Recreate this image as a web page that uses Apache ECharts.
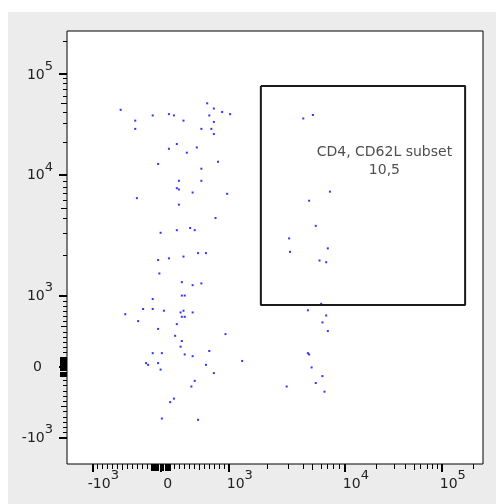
<!DOCTYPE html>
<html><head><meta charset="utf-8">
<script src="https://cdn.jsdelivr.net/npm/echarts@6/dist/echarts.min.js"></script>
<style>
html,body{margin:0;padding:0;background:#fff;}
#bg{position:absolute;left:8px;top:12px;width:488px;height:492px;background:#ececec;}
#chart{position:absolute;left:0;top:0;width:496px;height:504px;}
</style></head><body>
<div id="bg"></div><div id="chart"></div>
<script>
// Event positions in display channels (0-1000, biexponential scale)
const cd4Channel = [129,164,164,206,245,257,280,337,353,373, 342,392,353,323,347,353,264,245,312,288,
  219,363,323,269,323,264,269,302,385,168, 269,357,296,307,264,225,315,334,280,245,
  219,222,276,302,323,276,283,206,183,206, 233,273,280,302,140,276,283,171,264,219,
  381,260,276,273,342,206,228,283,302,190, 195,219,225,334,421,353,307,299,257,248,
  228,315,
  568,591,632,582,598,534,536,627,607,623, 611,579,623,614,627,579,582,588,614,598,
  528,619];
const cd62lChannel = [818,793,774,805,808,805,793,833,821,813, 805,808,790,774,774,762,739,728,731,719,
  693,698,682,654,654,637,634,627,624,614, 599,568,545,540,540,534,487,487,479,475,
  471,440,420,413,417,389,389,381,358,358, 354,350,354,350,346,340,340,330,323,312,
  300,296,284,271,261,256,256,253,249,233, 229,233,218,229,238,210,192,179,151,143,
  105,102,
  798,806,629,608,550,521,490,498,470,466, 370,355,343,327,307,256,253,223,203,187,
  179,167];
// Gate (rectangle corners, channels)
const gateX = [466, 957, 957, 466, 466];
const gateY = [873, 873, 367, 367, 873];
const gateName = 'CD4, CD62L subset';
const gateFreq = '10,5';
const gateLabelPos = [763, 700];
// Axis ticks (channels) and labels
const majorTicks = [61, 225, 389, 668, 901];
const majorBase = ['-10', '0', '10', '10', '10'];
const majorExp = ['3', '', '3', '4', '5'];
const mediumTicks = [133, 317, 590, 834];
const minorTicks = [73,85,97,109,121,145,157,169,181,193,257,269,281,293,305,329,341,353,365,377,
  481,533,568,610,626,640,654,744,786,812,850,865,879,891,977];
const zeroBandTicks = [203,205.5,208,210.5,213,215.5,218,220.5,223,227.5,230,232.5,235,237.5,240,242.5,245,247.5];

const FONT = 'DejaVu Sans';
const TXT = '#222';
const rich = {
  b: {fontSize: 14, fontFamily: FONT, color: TXT, lineHeight: 16, verticalAlign: 'bottom'},
  s: {fontSize: 13, fontFamily: FONT, color: TXT, lineHeight: 16, verticalAlign: 'bottom', padding: [0, 0, 9, 0]},
  sp: {width: 22, lineHeight: 16, padding: [0, 0, 9, 0], fontSize: 1},
  sp0: {width: 14, lineHeight: 16, padding: [0, 0, 9, 0], fontSize: 1},
  spy: {width: 11, lineHeight: 16, fontSize: 1}
};
function idx(v) {
  let best = 0;
  for (let i = 1; i < majorTicks.length; i++) {
    if (Math.abs(majorTicks[i] - v) < Math.abs(majorTicks[best] - v)) best = i;
  }
  return best;
}
function xLabel(v) {
  const i = idx(v);
  if (majorExp[i] === '') return '{sp0| }{b|' + majorBase[i] + '}';
  return '{sp| }{b|' + majorBase[i] + '}{s|' + majorExp[i] + '}';
}
function yLabel(v) {
  const i = idx(v);
  if (majorExp[i] === '') return '{b|' + majorBase[i] + '}{spy| }';
  return '{b|' + majorBase[i] + '}{s|' + majorExp[i] + '}';
}
function tickAxis(pos, ticks, len, width) {
  return {
    type: 'value', min: 0, max: 1000, position: pos,
    axisLine: {show: false}, splitLine: {show: false},
    axisTick: {show: true, customValues: ticks, length: len, lineStyle: {color: '#000', width: width}},
    axisLabel: {show: false}
  };
}
const mainX = {
  type: 'value', min: 0, max: 1000, position: 'bottom',
  axisLine: {show: false}, splitLine: {show: false},
  axisTick: {show: true, customValues: majorTicks, length: 8, lineStyle: {color: '#000', width: 2}},
  axisLabel: {show: true, customValues: majorTicks, formatter: xLabel, rich: rich, margin: 11, fontFamily: FONT}
};
const mainY = {
  type: 'value', min: 0, max: 1000, position: 'left',
  axisLine: {show: false}, splitLine: {show: false},
  axisTick: {show: true, customValues: majorTicks, length: 8, lineStyle: {color: '#000', width: 2}},
  axisLabel: {show: true, customValues: majorTicks, formatter: yLabel, rich: rich, margin: 14, fontFamily: FONT}
};

const chart = echarts.init(document.getElementById('chart'), null, {renderer: 'canvas'});
chart.setOption({
  animation: false,
  grid: {left: 67, top: 31, width: 416, height: 433, show: true, borderColor: '#000', borderWidth: 1, backgroundColor: '#fff'},
  xAxis: [mainX, tickAxis('bottom', mediumTicks, 6, 1), tickAxis('bottom', minorTicks, 5, 1), tickAxis('bottom', zeroBandTicks, 7, 1)],
  yAxis: [mainY, tickAxis('left', mediumTicks, 6, 1), tickAxis('left', minorTicks, 4, 1), tickAxis('left', zeroBandTicks, 7, 1)],
  series: [
    {
      name: 'events', type: 'scatter', xAxisIndex: 0, yAxisIndex: 0,
      symbol: 'rect', symbolSize: 2, itemStyle: {color: '#0000ff'},
      data: cd4Channel.map((x, i) => [x, cd62lChannel[i]])
    },
    {
      name: gateName, type: 'line', xAxisIndex: 0, yAxisIndex: 0, symbol: 'none', z: 5,
      lineStyle: {color: '#1a1a1a', width: 2},
      data: gateX.map((x, i) => [x, gateY[i]])
    },
    {
      name: 'gate label', type: 'scatter', xAxisIndex: 0, yAxisIndex: 0, symbolSize: 1,
      itemStyle: {color: 'rgba(255,255,255,0)'}, z: 6, silent: true,
      label: {show: true, position: 'inside', formatter: gateName + '\n' + gateFreq,
        fontFamily: FONT, fontSize: 14, lineHeight: 18, color: TXT, align: 'center', verticalAlign: 'middle'},
      data: [gateLabelPos]
    }
  ]
});
</script>
</body></html>
